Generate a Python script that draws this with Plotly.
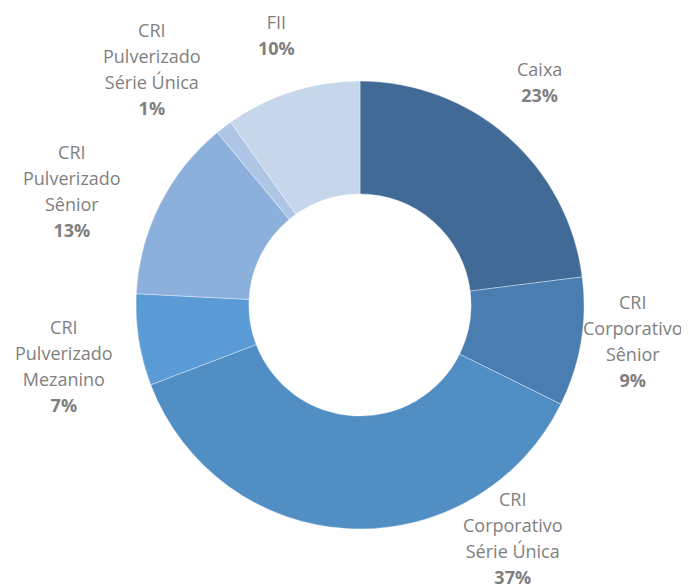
import plotly.graph_objects as go

# ---- data ----
categories = [
    "Caixa",
    "CRI<br>Corporativo<br>Sênior",
    "CRI<br>Corporativo<br>Série Única",
    "CRI<br>Pulverizado<br>Mezanino",
    "CRI<br>Pulverizado<br>Sênior",
    "CRI<br>Pulverizado<br>Série Única",
    "FII",
]
values = [23.0, 9.3, 36.9, 6.6, 13.2, 1.2, 9.8]
colors = ["#416b96", "#4a7db0", "#518ec4", "#5b9bd5", "#8cb0dc", "#adc6e5", "#c6d7ec"]

# label anchor points (window pixels)
label_px = [(539, 82), (633, 341), (513, 538), (64, 366), (72, 191), (152, 69), (276, 35)]

OFF = 8  # page body margin
W, H = 689 - OFF, 588 - OFF


def fx(px):
    return (px - OFF) / W


def fy(py):
    return 1 - (py - OFF) / H


fig = go.Figure(
    go.Pie(
        labels=[c.replace("<br>", " ") for c in categories],
        values=values,
        sort=False,
        direction="clockwise",
        rotation=0,
        hole=0.496,
        marker=dict(colors=colors, line=dict(color="rgba(255,255,255,0.6)", width=0.6)),
        textinfo="none",
        showlegend=False,
        domain=dict(x=[fx(136), fx(584)], y=[fy(529), fy(81)]),
    )
)

total = sum(values)
for cat, v, (px, py) in zip(categories, values, label_px):
    pct = round(v / total * 100)
    txt = f"<span style='font-size:18px'>{cat}<br><b>{pct}%</b></span>"
    fig.add_annotation(
        x=fx(px), y=fy(py), xref="paper", yref="paper",
        xanchor="center", yanchor="middle", showarrow=False,
        text=txt, align="center",
        font=dict(family="Open Sans", size=20, color="#7f7f7f"),
    )

fig.update_layout(
    width=W, height=H,
    margin=dict(l=0, r=0, t=0, b=0),
    paper_bgcolor="white", plot_bgcolor="white",
)
fig.write_html("out.html")
